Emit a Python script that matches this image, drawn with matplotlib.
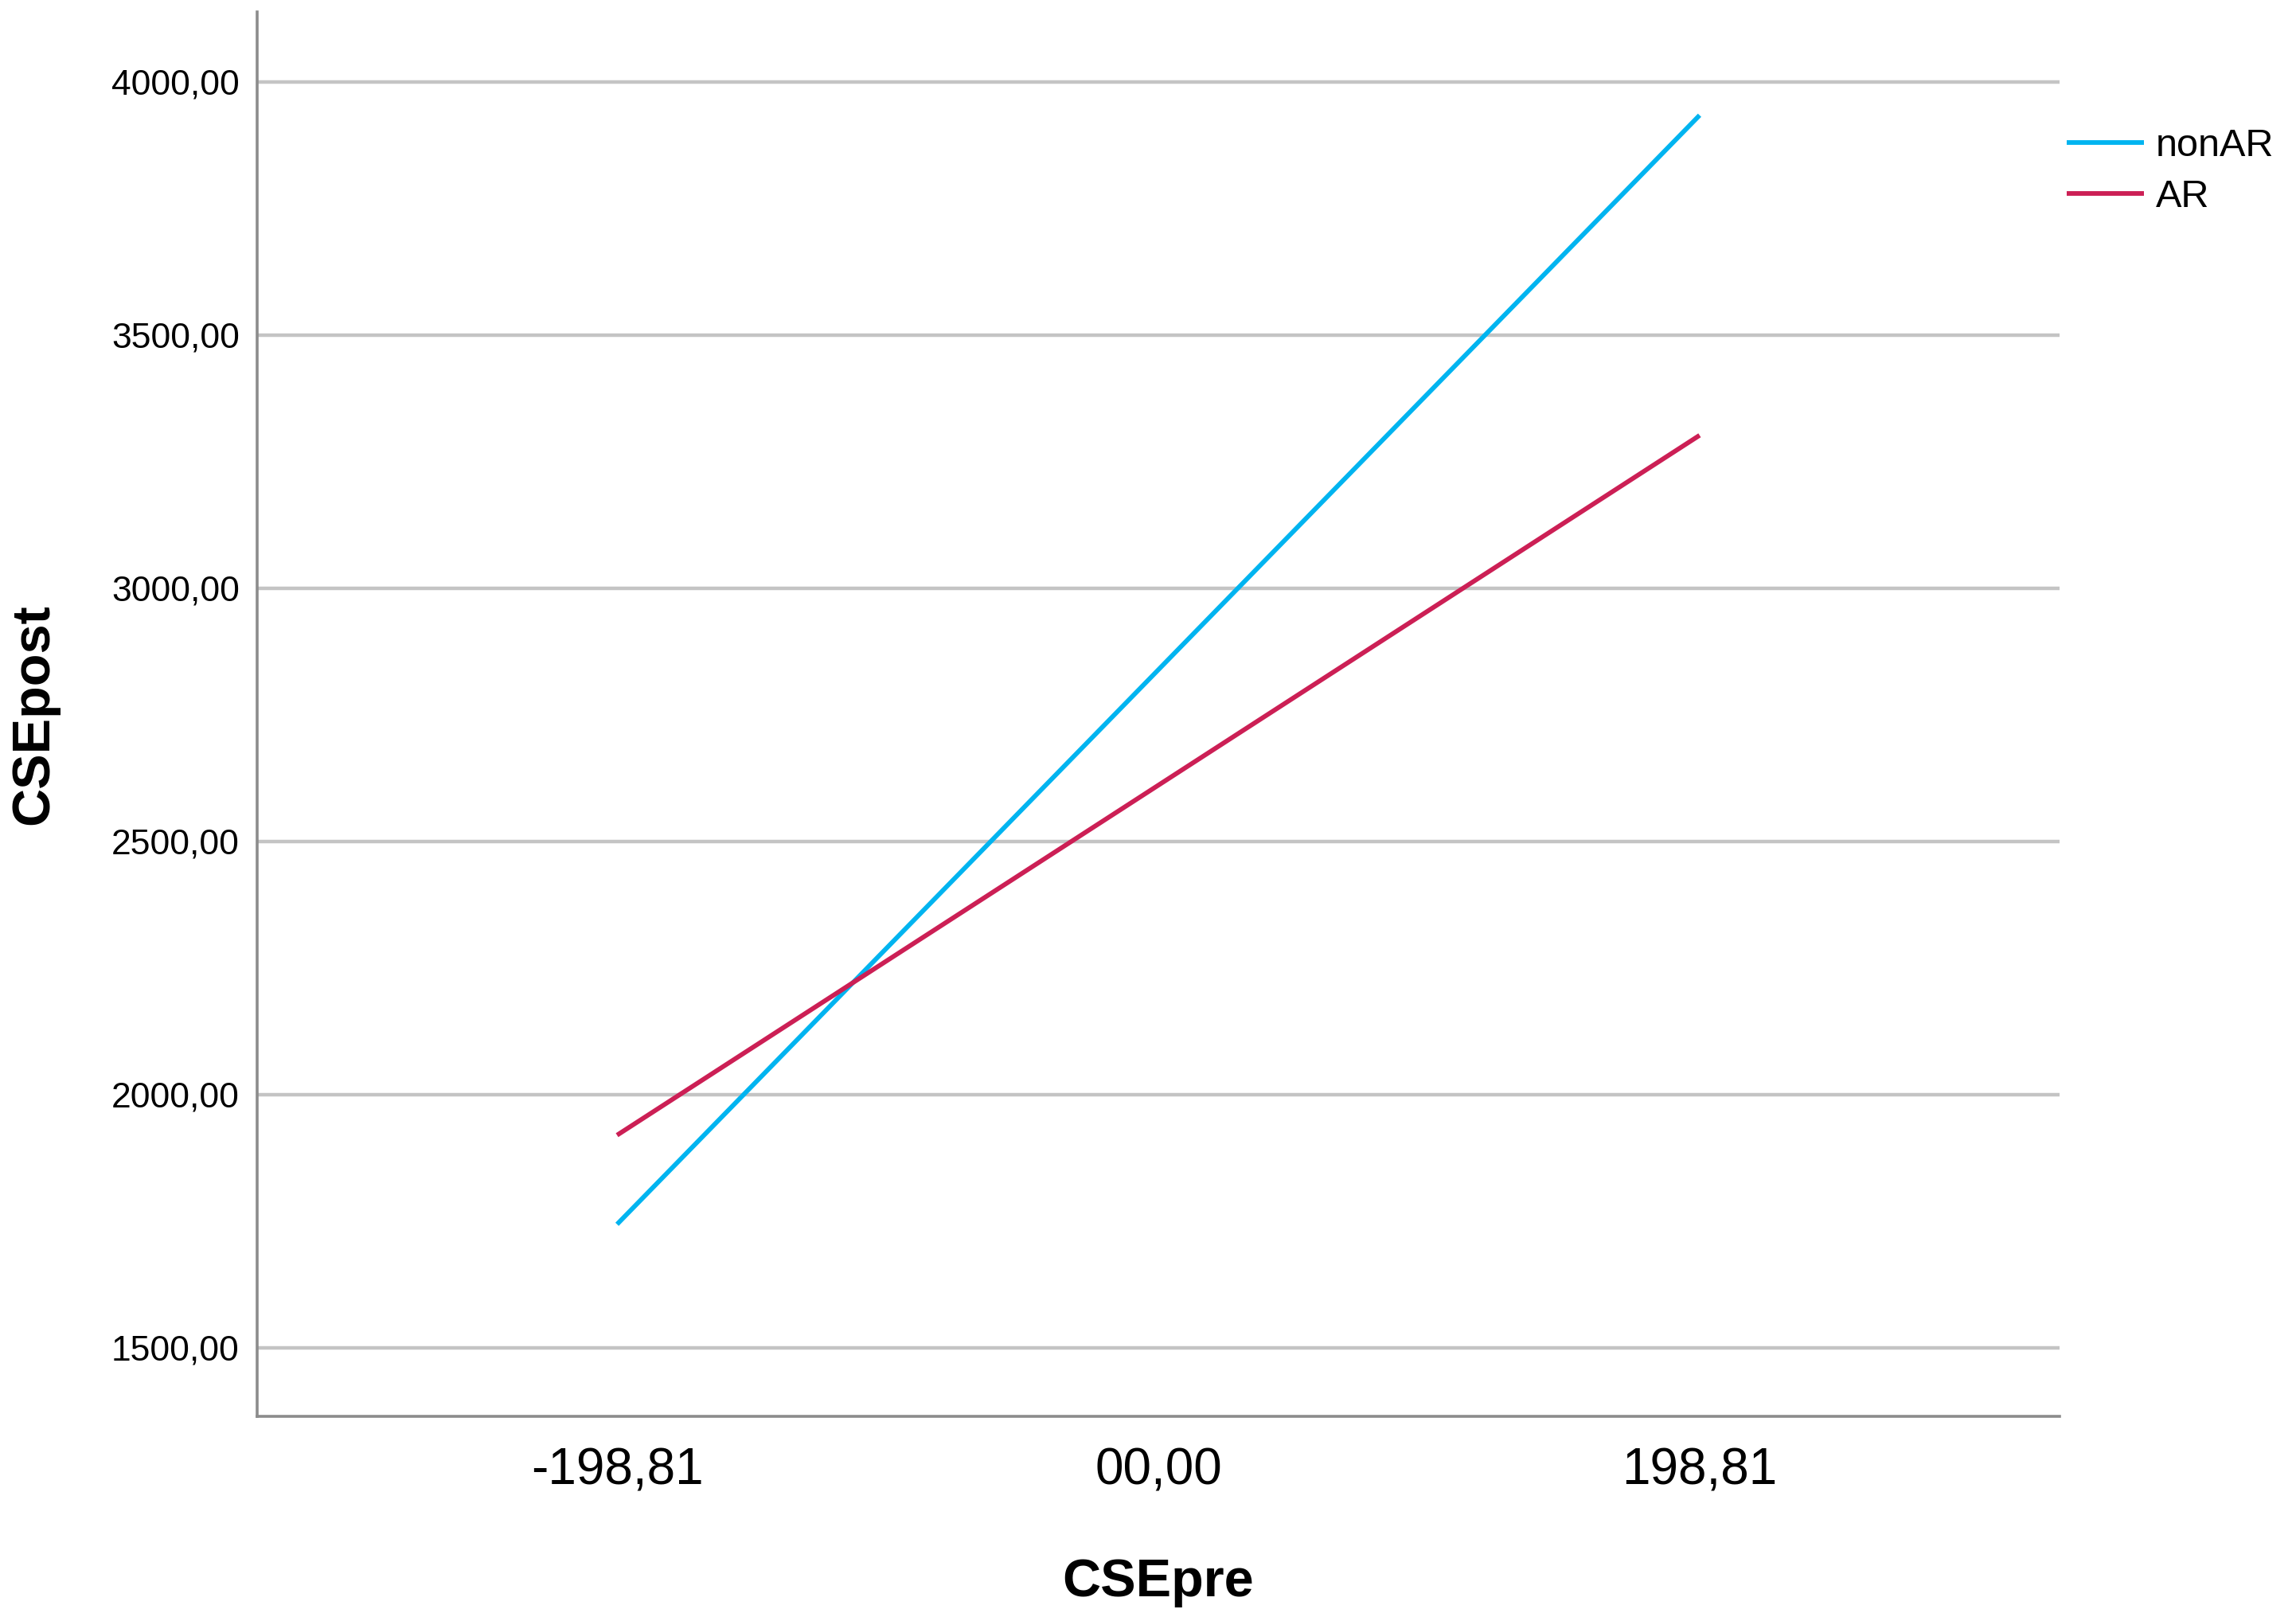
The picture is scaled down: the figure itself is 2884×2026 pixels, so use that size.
import matplotlib
matplotlib.use("Agg")
import matplotlib.pyplot as plt

# data
cse_pre = [-198.81, 198.81]
nonar_post = [1744, 3934]
ar_post = [1920, 3302]
x_ticks = [-198.81, 0.0, 198.81]
x_tick_labels = ["-198,81", "00,00", "198,81"]
y_ticks = [1500, 2000, 2500, 3000, 3500, 4000]
y_tick_labels = ["1500,00", "2000,00", "2500,00", "3000,00", "3500,00", "4000,00"]

plt.rcParams["font.family"] = ["Liberation Sans", "DejaVu Sans"]

fig = plt.figure(figsize=(28.84, 20.26), dpi=100)
ax = fig.add_axes([0.112, 0.122, 0.785, 0.8706])

ax.plot(cse_pre, nonar_post, color="#00b4f0", lw=4.2, label="nonAR", solid_capstyle="butt")
ax.plot(cse_pre, ar_post, color="#cc1f55", lw=4.2, label="AR", solid_capstyle="butt")

ax.set_xlim(-331, 331)
ax.set_ylim(1365, 4138)

ax.set_xticks(x_ticks)
ax.set_xticklabels(x_tick_labels, fontsize=46)
ax.set_yticks(y_ticks)
ax.set_yticklabels(y_tick_labels, fontsize=32)
ax.tick_params(axis="x", length=0, pad=28)
ax.tick_params(axis="y", length=0, pad=16)

ax.grid(axis="y", color="#c4c4c4", lw=3.2)
ax.set_axisbelow(True)
for s in ["top", "right"]:
    ax.spines[s].set_visible(False)
for s in ["left", "bottom"]:
    ax.spines[s].set_color("#8c8c8c")
    ax.spines[s].set_linewidth(2.6)

ax.set_xlabel("CSEpre", fontsize=48, fontweight="bold")
ax.xaxis.set_label_coords(0.5, -0.101)
ax.set_ylabel("CSEpost", fontsize=48, fontweight="bold")
ax.yaxis.set_label_coords(-0.110, 0.5)

ax.legend(loc="upper left", bbox_to_anchor=(0.991, 0.934), frameon=False,
          fontsize=35, handlelength=2.0, handletextpad=0.3, labelspacing=0.4,
          borderaxespad=0.2)

fig.savefig("out.png", dpi=100)
